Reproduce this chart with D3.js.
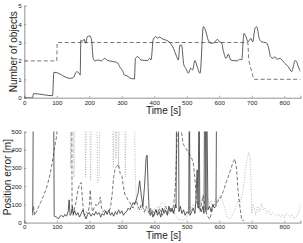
<!DOCTYPE html>
<html>
<head>
<meta charset="utf-8">
<script src="https://cdn.jsdelivr.net/npm/d3@7"></script>
<style>
  body { margin: 0; background: #fff; }
  svg text { font-family: "Liberation Sans", Arial, sans-serif; fill: #222; }
</style>
</head>
<body>
<div class="d3-wrapper"></div>
<script>
// ---- data ----
// top plot: true number of objects (dashed) and estimated (solid)
var trueCountT = [0, 100, 101, 688, 691, 706, 850];
var trueCountV = [2, 2, 3, 3, 2, 1, 1];

var estCountT = [0, 26, 28, 87, 91, 105, 120, 141, 151, 161, 169, 172, 174, 179, 184, 189, 194, 202, 207, 212, 217, 227, 237, 247, 257, 272, 288, 293, 303, 308, 318, 323, 339, 342, 349, 359, 380, 385, 390, 397, 405, 410, 415, 426, 436, 448, 459, 469, 474, 479, 484, 491, 497, 505, 512, 518, 525, 532, 541, 551, 559, 566, 577, 587, 594, 600, 607, 612, 621, 628, 635, 643, 655, 664, 669, 676, 682, 689, 697, 703, 710, 715, 723, 730, 744, 751, 758, 766, 771, 778, 787, 797, 812, 823, 828, 833, 838, 843, 850];
var estCountV = [0, 0, 0.22, 0.11, 1.38, 1.33, 1.18, 1.05, 1.1, 1.41, 1.32, 1.23, 3.13, 3.05, 3.18, 2.96, 3.32, 3.35, 3.13, 2.14, 2.0, 2.05, 2.0, 2.14, 2.02, 1.97, 1.88, 1.7, 1.44, 1.23, 1.18, 1.08, 1.02, 2.14, 2.23, 2.05, 2.02, 2.14, 2.05, 3.18, 3.32, 3.23, 3.3, 3.19, 3.13, 2.99, 2.68, 2.23, 2.05, 2.86, 2.86, 1.78, 1.6, 1.33, 1.6, 1.51, 2.02, 1.69, 1.33, 3.86, 3.59, 3.13, 2.95, 3.04, 3.17, 3.04, 2.99, 2.59, 2.14, 2.37, 2.05, 2.02, 2.0, 2.09, 2.05, 3.5, 3.32, 3.04, 3.22, 3.04, 3.77, 3.86, 3.22, 3.04, 2.99, 2.77, 2.23, 2.14, 2.23, 2.09, 2.14, 1.96, 1.69, 1.42, 1.7, 2.02, 1.96, 1.69, 1.42];

// bottom plot: position error of three objects (values above 500 are off the axis)
var errSolidT = [26, 28, 90, 92, 100, 105, 110, 115, 120, 125, 130, 135, 138, 141, 145, 148, 151, 155, 160, 165, 170, 175, 180, 185, 190, 195, 200, 205, 210, 215, 220, 225, 230, 235, 240, 245, 250, 255, 260, 265, 270, 275, 280, 285, 290, 295, 300, 305, 310, 315, 320, 325, 330, 335, 340, 345, 350, 355, 360, 365, 370, 375, 378, 381, 384, 388, 392, 396, 400, 405, 410, 415, 420, 425, 430, 435, 440, 445, 450, 455, 460, 465, 467, 469, 474, 476, 480, 485, 490, 495, 500, 506, 508, 510, 515, 520, 525, 528, 532, 535, 538, 540, 545, 550, 553, 555, 557, 559, 561, 565, 570, 575, 580, 585, 590, 592];
var errSolidV = [40, 800, 800, 35, 30, 20, 35, 40, 30, 45, 35, 60, 125, 40, 50, 90, 45, 65, 40, 55, 30, 50, 70, 40, 20, 45, 55, 35, 50, 40, 60, 45, 55, 30, 50, 40, 65, 45, 70, 40, 55, 35, 60, 45, 70, 50, 65, 40, 55, 60, 80, 70, 90, 110, 100, 130, 160, 230, 150, 90, 200, 360, 370, 200, 80, 40, 60, 30, 50, 70, 40, 60, 30, 80, 50, 70, 40, 90, 60, 80, 50, 100, 80, 800, 800, 60, 90, 50, 70, 40, 60, 50, 800, 40, 60, 80, 50, 120, 290, 80, 800, 80, 60, 90, 50, 800, 800, 60, 800, 70, 90, 60, 100, 80, 90, 800];

var errDashT = [26, 28, 32, 40, 50, 60, 70, 80, 88, 94, 100, 104, 146, 147, 150, 155, 160, 165, 170, 175, 178, 182, 186, 190, 195, 200, 203, 206, 210, 215, 220, 225, 230, 234, 238, 242, 248, 255, 260, 265, 270, 275, 280, 285, 290, 295, 300, 305, 310, 315, 320, 325, 330, 335, 340, 345, 350, 355, 360, 365, 370, 375, 380, 385, 390, 395, 400, 405, 410, 415, 420, 425, 430, 435, 440, 445, 450, 455, 460, 465, 470, 473, 482, 489, 500, 515, 520, 525, 530, 541, 550, 556, 562, 571, 581, 592, 602, 612, 622, 633, 643, 648, 653, 658, 664, 669, 676];
var errDashV = [60, 90, 40, 70, 110, 150, 200, 270, 350, 420, 480, 800, 800, 60, 40, 80, 120, 180, 210, 220, 150, 60, 40, 60, 50, 90, 180, 100, 60, 80, 100, 90, 110, 140, 80, 60, 70, 50, 60, 80, 150, 250, 300, 310, 320, 270, 260, 200, 150, 140, 120, 110, 90, 80, 110, 120, 90, 70, 100, 80, 60, 90, 70, 50, 80, 60, 40, 70, 50, 80, 60, 40, 70, 90, 60, 50, 80, 60, 100, 200, 450, 800, 520, 430, 400, 355, 327, 245, 120, 60, 150, 90, 40, 18, 90, 110, 130, 170, 225, 280, 335, 350, 300, 170, 80, 15, 10];

var errDotT = [140, 143, 146, 150, 153, 156, 185, 189, 193, 200, 204, 208, 222, 226, 230, 234, 270, 274, 278, 282, 286, 290, 294, 308, 311, 315, 338, 341, 344, 348, 352, 356, 360, 365, 370, 375, 380, 385, 390, 395, 400, 405, 410, 415, 420, 425, 430, 435, 440, 445, 450, 455, 460, 465, 470, 475, 480, 485, 490, 495, 500, 505, 510, 515, 520, 525, 530, 535, 540, 545, 550, 555, 560, 565, 570, 575, 580, 585, 590, 595, 600, 605, 610, 615, 620, 625, 630, 635, 640, 645, 650, 655, 660, 665, 670, 675, 680, 685, 690, 694, 697, 700, 704, 708, 712, 718, 724, 730, 735, 740, 746, 752, 758, 764, 770, 776, 782, 788, 794, 800, 806, 812, 818, 824, 830, 836, 842, 846, 850];
var errDotV = [800, 300, 800, 800, 250, 800, 800, 250, 800, 800, 230, 800, 800, 220, 240, 800, 800, 300, 800, 350, 800, 300, 800, 800, 250, 800, 800, 300, 150, 80, 60, 90, 70, 100, 50, 80, 60, 40, 70, 50, 80, 60, 90, 80, 100, 110, 105, 90, 70, 60, 75, 50, 70, 40, 25, 15, 20, 10, 15, 20, 30, 60, 90, 70, 100, 80, 110, 90, 120, 100, 130, 140, 160, 130, 100, 120, 90, 110, 130, 110, 140, 150, 120, 90, 60, 30, 20, 25, 40, 60, 80, 100, 130, 110, 150, 200, 280, 340, 385, 370, 250, 50, 100, 80, 40, 90, 60, 105, 70, 80, 50, 65, 40, 55, 45, 35, 50, 30, 45, 25, 50, 40, 30, 45, 20, 35, 40, 70, 100];

var xTicks = [0, 100, 200, 300, 400, 500, 600, 700, 800];
var countTicks = [0, 1, 2, 3, 4, 5];
var errTicks = [0, 100, 200, 300, 400, 500];

// ---- drawing ----
var canvas = d3.select(".d3-wrapper").append("svg").attr("width", 303).attr("height", 243);

var x = d3.scaleLinear().domain([0, 850]).range([24.3, 300.5]);
var yTop = d3.scaleLinear().domain([0, 5]).range([97.7, 5.7]);
var yBot = d3.scaleLinear().domain([0, 500]).range([222.6, 131.6]);

var zip = function(ts, vs) {
  return ts.map(function(t, i) { return [t, vs[i]]; });
};

var drawPanel = function(y, yTicks, name, id) {
  var g = canvas.append("g");
  var r = y.range();

  // clip so lines above the top value are cut off
  canvas.append("clipPath").attr("id", id)
    .append("rect").attr("x", x(0)).attr("y", r[1]).attr("width", x(850) - x(0)).attr("height", r[0] - r[1]);

  var xAxis = d3.axisBottom(x).tickValues(xTicks).tickSize(-2).tickPadding(2.5).tickFormat(d3.format("d"));
  var yAxis = d3.axisLeft(y).tickValues(yTicks).tickSize(-2).tickPadding(2.5).tickFormat(d3.format("d"));

  var gx = g.append("g").attr("transform", "translate(0," + r[0] + ")").call(xAxis);
  var gy = g.append("g").attr("transform", "translate(" + x(0) + ",0)").call(yAxis);
  [gx, gy].forEach(function(a) {
    a.select(".domain").attr("stroke", "#777").attr("stroke-width", 0.8);
    a.selectAll(".tick line").attr("stroke", "#777").attr("stroke-width", 0.6);
    a.selectAll("text").attr("font-size", 6.2).attr("fill", "#333");
  });

  var ycenter = (r[0] + r[1]) / 2;
  var lx = id == "clipTop" ? 13.7 : 7.2;
  g.append("text").attr("transform", "translate(" + (lx + 3.5) + "," + ycenter + ") rotate(-90)")
    .attr("text-anchor", "middle").attr("font-size", 10).attr("fill", "#222").text(name);
  g.append("text").attr("x", 163.5).attr("y", r[0] + 16).attr("text-anchor", "middle")
    .attr("font-size", 10).attr("fill", "#222").text("Time [s]");

  return canvas.append("g").attr("clip-path", "url(#" + id + ")");
};

var topPanel = drawPanel(yTop, countTicks, "Number of objects", "clipTop");
var lineTop = d3.line().x(function(d) { return x(d[0]); }).y(function(d) { return yTop(d[1]); });

topPanel.append("path").datum(zip(trueCountT, trueCountV)).attr("d", lineTop)
  .attr("fill", "none").attr("stroke", "#555").attr("stroke-width", 0.8).attr("stroke-dasharray", "4,2.5");
topPanel.append("path").datum(zip(estCountT, estCountV)).attr("d", lineTop.curve(d3.curveMonotoneX))
  .attr("fill", "none").attr("stroke", "#333").attr("stroke-width", 0.8);

var botPanel = drawPanel(yBot, errTicks, "Position error [m]", "clipBot");
var lineBot = d3.line().x(function(d) { return x(d[0]); }).y(function(d) { return yBot(d[1]); });

botPanel.append("path").datum(zip(errDotT, errDotV)).attr("d", lineBot)
  .attr("fill", "none").attr("stroke", "#aaa").attr("stroke-width", 0.8).attr("stroke-dasharray", "1,1.5");
botPanel.append("path").datum(zip(errDashT, errDashV)).attr("d", lineBot)
  .attr("fill", "none").attr("stroke", "#555").attr("stroke-width", 0.8).attr("stroke-dasharray", "3.5,2");
botPanel.append("path").datum(zip(errSolidT, errSolidV)).attr("d", lineBot)
  .attr("fill", "none").attr("stroke", "#333").attr("stroke-width", 0.8);
</script>
</body>
</html>
